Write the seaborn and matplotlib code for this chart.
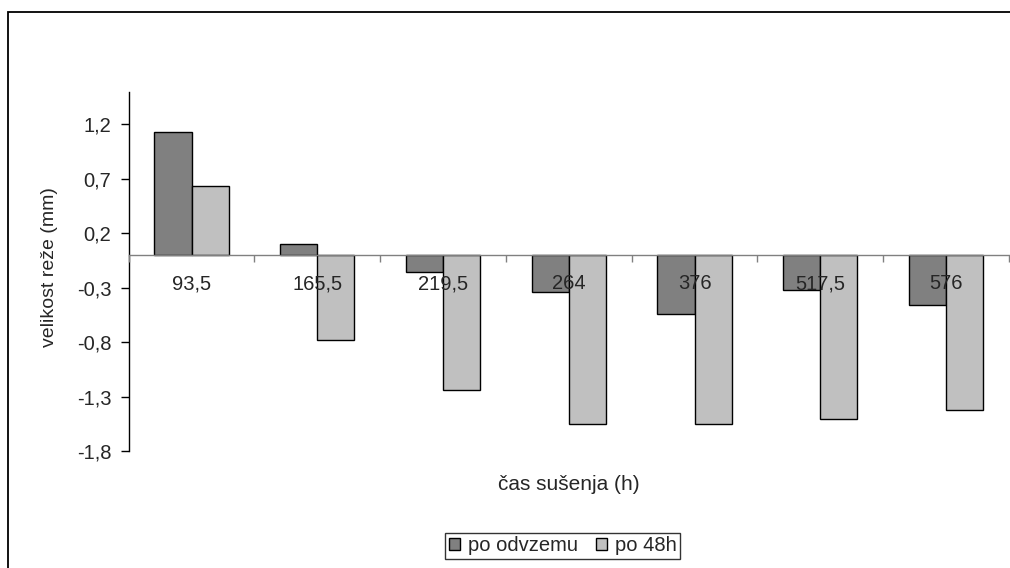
import matplotlib
matplotlib.use("Agg")
import matplotlib.pyplot as plt
import matplotlib.patches as mpatches
import seaborn as sns
import pandas as pd

categories = ["93,5", "165,5", "219,5", "264", "376", "517,5", "576"]
series_names = ["po odvzemu", "po 48h"]
po_odvzemu = [1.13, 0.10, -0.16, -0.34, -0.54, -0.32, -0.46]
po_48h = [0.63, -0.78, -1.24, -1.55, -1.55, -1.51, -1.42]
y_ticks = [1.2, 0.7, 0.2, -0.3, -0.8, -1.3, -1.8]
y_tick_labels = ["1,2", "0,7", "0,2", "-0,3", "-0,8", "-1,3", "-1,8"]
x_title = "čas sušenja (h)"
y_title = "velikost reže (mm)"

df = pd.DataFrame({
    "cas": categories * 2,
    "serija": [series_names[0]] * len(categories) + [series_names[1]] * len(categories),
    "vrednost": po_odvzemu + po_48h,
})

sns.set_style("white")
plt.rcParams["font.family"] = ["Liberation Sans", "DejaVu Sans"]

fig = plt.figure(figsize=(10.1, 5.68), dpi=100)
ax = fig.add_axes([0.1274, 0.206, 0.8716, 0.6326])

sns.barplot(data=df, x="cas", y="vrednost", hue="serija", order=categories,
            hue_order=series_names, palette=["#808080", "#C0C0C0"],
            width=0.59, edgecolor="black", linewidth=1.0, ax=ax, legend=True)

ax.set_axisbelow(False)
ax.set_ylim(-1.8, 1.5)
ax.set_xlim(-0.5, len(categories) - 0.5)
ax.set_yticks(y_ticks)
ax.set_yticklabels(y_tick_labels, fontsize=14.5)
ax.tick_params(axis="y", direction="out", length=6, width=1, color="black", pad=6.5, left=True)

# x axis at zero
for s in ["top", "right"]:
    ax.spines[s].set_visible(False)
ax.spines["left"].set_color("black")
ax.spines["left"].set_linewidth(1)
ax.spines["bottom"].set_position(("data", 0))
ax.spines["bottom"].set_color("#808080")
ax.spines["bottom"].set_linewidth(1)
ax.spines["bottom"].set_zorder(3)

ax.set_xticks(range(len(categories)))
ax.set_xticklabels(categories, fontsize=14.5)
ax.tick_params(axis="x", which="major", length=0, pad=14, bottom=True)
ax.set_xticks([i - 0.5 for i in range(len(categories) + 1)], minor=True)
ax.tick_params(axis="x", which="minor", direction="out", length=5, width=1, color="#808080", bottom=True)

ax.set_xlabel("")
ax.set_ylabel("")
ax.text(0.5002, -0.0946, x_title, transform=ax.transAxes, ha="center", va="center", fontsize=15)
ax.text(-0.0905, 0.512, y_title, transform=ax.transAxes, ha="center", va="center",
        rotation=90, fontsize=14)

leg = ax.legend(loc="center", bbox_to_anchor=(0.557, 0.039), bbox_transform=fig.transFigure,
                ncol=2, frameon=True, fancybox=False, fontsize=14.5, handlelength=0.55,
                handleheight=0.55, handletextpad=0.4, columnspacing=0.9, borderpad=0.16,
                borderaxespad=0)
leg.get_frame().set_edgecolor("black")
leg.get_frame().set_linewidth(1)

# outer chart frame
frame = mpatches.Rectangle((8 / 1010, -0.1), 1.2, 1.1 - 12 / 568, transform=fig.transFigure,
                           fill=False, edgecolor="black", linewidth=1.3, clip_on=False)
fig.patches.append(frame)

fig.savefig("out.png", dpi=100, facecolor="white")
